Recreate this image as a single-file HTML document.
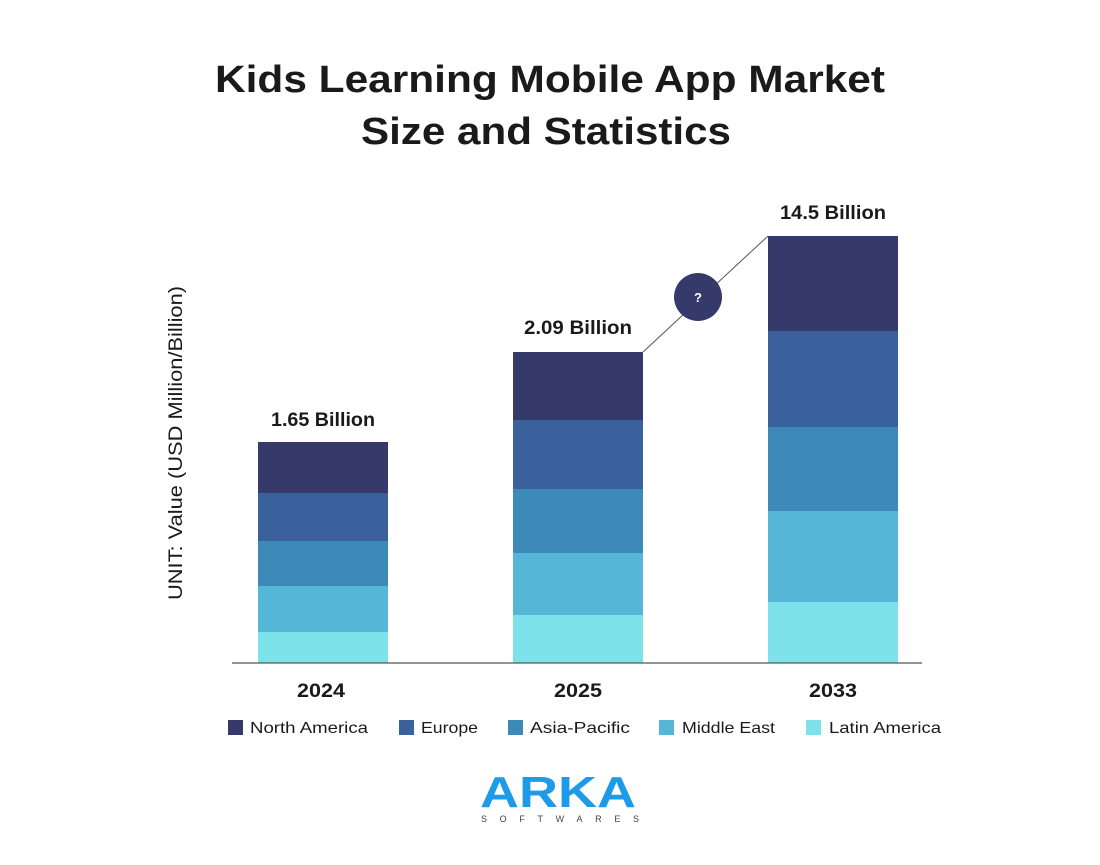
<!DOCTYPE html>
<html><head><meta charset="utf-8"><style>
body{margin:0;background:#fff;width:1100px;height:860px;overflow:hidden;font-family:"Liberation Sans",sans-serif}
</style></head><body>
<svg width="1100" height="860" xmlns="http://www.w3.org/2000/svg" font-family="Liberation Sans, sans-serif">
<text x="550" y="92" text-anchor="middle" font-size="38" font-weight="bold" fill="#1a1a1a" textLength="670" lengthAdjust="spacingAndGlyphs">Kids Learning Mobile App Market</text>
<text x="546" y="144" text-anchor="middle" font-size="38" font-weight="bold" fill="#1a1a1a" textLength="370" lengthAdjust="spacingAndGlyphs">Size and Statistics</text>
<text transform="translate(182,443) rotate(-90)" text-anchor="middle" font-size="19" fill="#1a1a1a" textLength="314" lengthAdjust="spacingAndGlyphs">UNIT: Value (USD Million/Billion)</text>
<rect x="258" y="442" width="130" height="51" fill="#363a6b"/>
<rect x="258" y="493" width="130" height="48" fill="#3a619c"/>
<rect x="258" y="541" width="130" height="45" fill="#3d8ab8"/>
<rect x="258" y="586" width="130" height="46" fill="#56b6d8"/>
<rect x="258" y="632" width="130" height="31" fill="#7ee2ea"/>
<rect x="513" y="352" width="130" height="68" fill="#363a6b"/>
<rect x="513" y="420" width="130" height="69" fill="#3a619c"/>
<rect x="513" y="489" width="130" height="64" fill="#3d8ab8"/>
<rect x="513" y="553" width="130" height="62" fill="#56b6d8"/>
<rect x="513" y="615" width="130" height="48" fill="#7ee2ea"/>
<rect x="768" y="236" width="130" height="95" fill="#363a6b"/>
<rect x="768" y="331" width="130" height="96" fill="#3a619c"/>
<rect x="768" y="427" width="130" height="84" fill="#3d8ab8"/>
<rect x="768" y="511" width="130" height="91" fill="#56b6d8"/>
<rect x="768" y="602" width="130" height="61" fill="#7ee2ea"/>
<line x1="232" y1="663" x2="922" y2="663" stroke="#555" stroke-width="1.2"/>
<line x1="643" y1="352" x2="768" y2="236" stroke="#555" stroke-width="1"/>
<circle cx="698" cy="297" r="24" fill="#363a6b"/>
<text x="698" y="302" text-anchor="middle" font-size="13" font-weight="bold" fill="#fff">?</text>
<text x="323" y="426" text-anchor="middle" font-size="19" font-weight="bold" fill="#1a1a1a" textLength="104" lengthAdjust="spacingAndGlyphs">1.65 Billion</text>
<text x="578" y="334" text-anchor="middle" font-size="19" font-weight="bold" fill="#1a1a1a" textLength="108" lengthAdjust="spacingAndGlyphs">2.09 Billion</text>
<text x="833" y="219" text-anchor="middle" font-size="19" font-weight="bold" fill="#1a1a1a" textLength="106" lengthAdjust="spacingAndGlyphs">14.5 Billion</text>
<text x="321" y="697" text-anchor="middle" font-size="19" font-weight="bold" fill="#1a1a1a" textLength="48" lengthAdjust="spacingAndGlyphs">2024</text>
<text x="578" y="697" text-anchor="middle" font-size="19" font-weight="bold" fill="#1a1a1a" textLength="48" lengthAdjust="spacingAndGlyphs">2025</text>
<text x="833" y="697" text-anchor="middle" font-size="19" font-weight="bold" fill="#1a1a1a" textLength="48" lengthAdjust="spacingAndGlyphs">2033</text>
<g font-size="16" fill="#1a1a1a">
<rect x="228" y="720" width="15" height="15" fill="#363a6b"/><text x="250" y="733" textLength="118" lengthAdjust="spacingAndGlyphs">North America</text>
<rect x="399" y="720" width="15" height="15" fill="#3a619c"/><text x="421" y="733" textLength="57" lengthAdjust="spacingAndGlyphs">Europe</text>
<rect x="508" y="720" width="15" height="15" fill="#3d8ab8"/><text x="530" y="733" textLength="100" lengthAdjust="spacingAndGlyphs">Asia-Pacific</text>
<rect x="659" y="720" width="15" height="15" fill="#56b6d8"/><text x="682" y="733" textLength="93" lengthAdjust="spacingAndGlyphs">Middle East</text>
<rect x="806" y="720" width="15" height="15" fill="#7ee2ea"/><text x="829" y="733" textLength="112" lengthAdjust="spacingAndGlyphs">Latin America</text>
</g>
<text x="558" y="807" text-anchor="middle" font-size="44" font-weight="bold" fill="#1e9be8" textLength="156" lengthAdjust="spacingAndGlyphs">ARKA</text>
<text x="560" y="822" text-anchor="middle" font-size="9" fill="#444" textLength="158" lengthAdjust="spacing">SOFTWARES</text>
</svg>
</body></html>
